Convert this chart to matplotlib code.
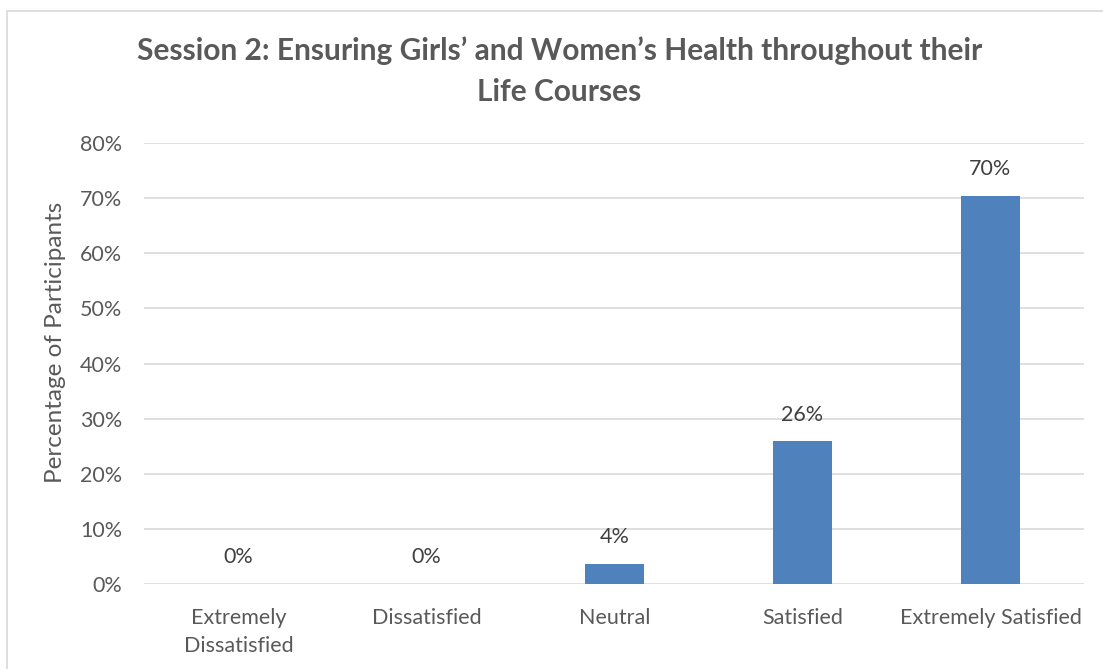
import matplotlib.pyplot as plt
from matplotlib.patches import Rectangle
from matplotlib.ticker import PercentFormatter

# data
categories = ["Extremely\nDissatisfied", "Dissatisfied", "Neutral", "Satisfied", "Extremely Satisfied"]
values = [0.0, 0.0, 3.7, 25.9, 70.4]
labels = ["0%", "0%", "4%", "26%", "70%"]

plt.rcParams["font.family"] = ["Lato", "DejaVu Sans"]

fig = plt.figure(figsize=(11.03, 6.69), dpi=100)
ax = fig.add_axes([0.131, 0.1271, 0.8522, 0.6591])

# chart border (only top/left visible in the crop)
fig.patches.append(Rectangle((7 / 1103, -0.05), 1.2, 1 - 11 / 669 + 0.05,
                             transform=fig.transFigure, fill=False,
                             edgecolor="#D9D9D9", linewidth=1.2))

x = range(len(categories))
ax.bar(x, values, width=0.315, color="#4F81BD", zorder=3)
for i, (v, lab) in enumerate(zip(values, labels)):
    ax.text(i, v + 3.0, lab, ha="center", va="bottom", fontsize=15.5, color="#404040")

ax.set_xlim(-0.5, len(categories) - 0.5)
ax.set_ylim(0, 80)
ax.set_yticks(range(0, 81, 10))
ax.yaxis.set_major_formatter(PercentFormatter(decimals=0))
ax.set_xticks(list(x))
ax.set_xticklabels(categories, fontsize=15.5, color="#595959", linespacing=1.5)
ax.tick_params(axis="y", labelsize=15.5, labelcolor="#595959", length=0, pad=16)
ax.tick_params(axis="x", length=0, pad=17)
ax.grid(axis="y", color="#D9D9D9", linewidth=1.2, zorder=0)
for s in ax.spines.values():
    s.set_visible(False)

ax.set_ylabel("Percentage of Participants", fontsize=17.5, color="#595959")
ax.yaxis.set_label_coords(-0.083, 0.548)

fig.text(0.507, 0.894, "Session 2: Ensuring Girls\u2019 and Women\u2019s Health throughout their\nLife Courses",
         ha="center", va="center", fontsize=21.5, fontweight="bold", color="#595959",
         linespacing=1.55)

fig.savefig("out.png", dpi=100)
